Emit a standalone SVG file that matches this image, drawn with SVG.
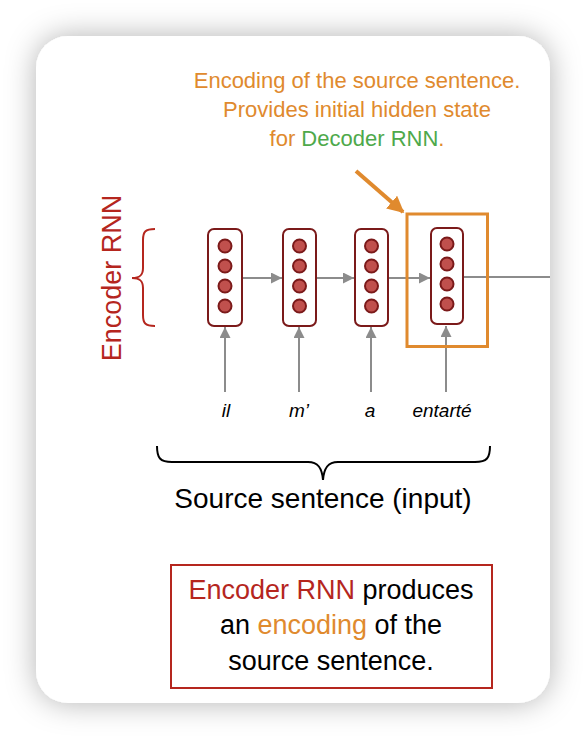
<svg xmlns="http://www.w3.org/2000/svg" width="586" height="740" viewBox="0 0 586 740">
<defs>
<filter id="sh" x="-20%" y="-20%" width="140%" height="140%">
<feDropShadow dx="0" dy="0" stdDeviation="15" flood-color="#000" flood-opacity="0.3"/>
</filter>
<marker id="ga" viewBox="0 0 10 10" refX="10" refY="5" markerWidth="6" markerHeight="5.5" orient="auto" markerUnits="strokeWidth">
<path d="M0,0 L10,5 L0,10 z" fill="#8c8c8c"/>
</marker>
<marker id="oa" viewBox="0 0 10 10" refX="9" refY="5" markerWidth="4.2" markerHeight="4.2" orient="auto" markerUnits="strokeWidth">
<path d="M0,0 L10,5 L0,10 z" fill="#E08A2E"/>
</marker>
</defs>
<style>
.cell{fill:#fff;stroke:#7B1A1A;stroke-width:2}
.dot{fill:#C0504D;stroke:#7B1A1A;stroke-width:2}
.conn{stroke:#8c8c8c;stroke-width:2;fill:none}
.t{font-family:"Liberation Sans",Arial,sans-serif}
.or{fill:#E08A2E}
.gr{fill:#4EA94B}
.rd{fill:#B5261E}
.bk{fill:#000}
.w{font-family:"Liberation Sans",Arial,sans-serif;font-style:italic;font-size:19px;fill:#000;text-anchor:middle}
</style>
<rect x="0" y="0" width="586" height="740" fill="#fff"/>
<rect x="36" y="36" width="514" height="667" rx="32" fill="#fff" filter="url(#sh)"/>

<g id="title">
<text class="t or" x="357" y="88" font-size="22" text-anchor="middle">Encoding of the source sentence.</text>
<text class="t or" x="357" y="117" font-size="22" text-anchor="middle">Provides initial hidden state</text>
<text class="t or" x="357" y="146" font-size="22" text-anchor="middle">for <tspan class="gr">Decoder RNN</tspan>.</text>
</g>

<g id="encoder-label">
<text class="t rd" x="0" y="0" font-size="27" text-anchor="middle" transform="translate(121,278) rotate(-90)">Encoder RNN</text>
<path d="M155,229 C145,229 143,232 143,240 L143,268 C143,275 140,278 132,278 C140,278 143,281 143,288 L143,315 C143,323 145,326 155,326" fill="none" stroke="#B5261E" stroke-width="2"/>
</g>

<g id="connectors">
<line class="conn" x1="242" y1="278" x2="282" y2="278" marker-end="url(#ga)"/>
<line class="conn" x1="316" y1="278" x2="354" y2="278" marker-end="url(#ga)"/>
<line class="conn" x1="388" y1="278" x2="430" y2="278" marker-end="url(#ga)"/>
<line class="conn" x1="463" y1="277" x2="550" y2="277"/>
<line class="conn" x1="225" y1="392" x2="225" y2="327" marker-end="url(#ga)"/>
<line class="conn" x1="299" y1="392" x2="299" y2="327" marker-end="url(#ga)"/>
<line class="conn" x1="371" y1="392" x2="371" y2="327" marker-end="url(#ga)"/>
<line class="conn" x1="446" y1="392" x2="446" y2="326" marker-end="url(#ga)"/>
<line x1="356" y1="171" x2="403" y2="212" stroke="#E08A2E" stroke-width="4" marker-end="url(#oa)"/>
</g>

<g id="cell1">
<rect class="cell" x="208" y="229" width="34" height="97" rx="6"/>
<circle class="dot" cx="225" cy="246" r="6.5"/><circle class="dot" cx="225" cy="266" r="6.5"/><circle class="dot" cx="225" cy="286" r="6.5"/><circle class="dot" cx="225" cy="306" r="6.5"/>
</g>
<g id="cell2">
<rect class="cell" x="283" y="229" width="33" height="97" rx="6"/>
<circle class="dot" cx="299.5" cy="246" r="6.5"/><circle class="dot" cx="299.5" cy="266" r="6.5"/><circle class="dot" cx="299.5" cy="286" r="6.5"/><circle class="dot" cx="299.5" cy="306" r="6.5"/>
</g>
<g id="cell3">
<rect class="cell" x="355" y="229" width="33" height="97" rx="6"/>
<circle class="dot" cx="371.5" cy="246" r="6.5"/><circle class="dot" cx="371.5" cy="266" r="6.5"/><circle class="dot" cx="371.5" cy="286" r="6.5"/><circle class="dot" cx="371.5" cy="306" r="6.5"/>
</g>
<g id="cell4">
<rect class="cell" x="431" y="228" width="32" height="96" rx="6"/>
<circle class="dot" cx="447" cy="244" r="6.5"/><circle class="dot" cx="447" cy="264" r="6.5"/><circle class="dot" cx="447" cy="284" r="6.5"/><circle class="dot" cx="447" cy="304" r="6.5"/>
</g>
<g id="encoding-box">
<rect x="407" y="214" width="80.5" height="132.5" fill="none" stroke="#E08A2E" stroke-width="3"/>
</g>

<g id="words">
<text class="w" x="226" y="417">il</text>
<text class="w" x="299" y="417">m’</text>
<text class="w" x="370" y="417">a</text>
<text class="w" x="442" y="417">entarté</text>
</g>

<g id="source">
<path d="M157,446 C157,458 160,462 172,462 L308,462 C318,462 322,468 323,480 C324,468 328,462 338,462 L475,462 C487,462 490,458 490,446" fill="none" stroke="#000" stroke-width="2"/>
<text class="t bk" x="323" y="508" font-size="28" text-anchor="middle">Source sentence (input)</text>
</g>

<g id="note">
<rect x="171" y="565" width="321" height="123" fill="#fff" stroke="#B5261E" stroke-width="2"/>
<text class="t bk" x="331" y="599" font-size="27" text-anchor="middle"><tspan class="rd">Encoder RNN</tspan> produces</text>
<text class="t bk" x="331" y="634" font-size="27" text-anchor="middle">an <tspan class="or">encoding</tspan> of the</text>
<text class="t bk" x="331" y="670" font-size="27" text-anchor="middle">source sentence.</text>
</g>
</svg>
